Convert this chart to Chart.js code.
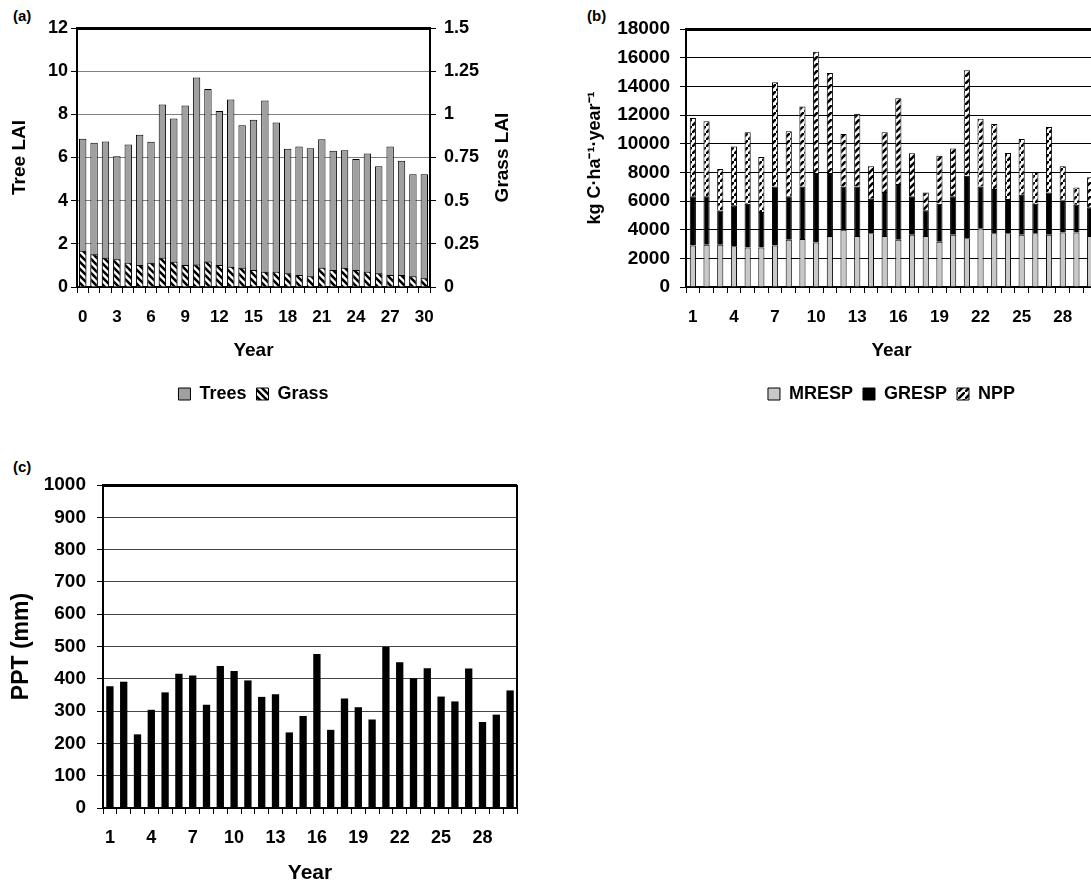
<!DOCTYPE html>
<html>
<head>
<meta charset="utf-8">
<script src="https://cdn.jsdelivr.net/npm/chart.js@4.4.1/dist/chart.umd.min.js"></script>
<style>
  body { margin: 0; background: #fff; width: 1091px; height: 884px; overflow: hidden; position: relative; }
  canvas { position: absolute; }
  .tag { position: absolute; font: bold 15px "Liberation Sans", Arial, sans-serif; line-height: 15px; color: #000; }
</style>
</head>
<body>
<div class="tag" style="left:13px; top:8px;">(a)</div>
<div class="tag" style="left:587px; top:8px;">(b)</div>
<div class="tag" style="left:13px; top:459px;">(c)</div>
<canvas id="chartA" width="525" height="420" style="left:0; top:0;"></canvas>
<canvas id="chartB" width="600" height="420" style="left:580px; top:0;"></canvas>
<canvas id="chartC" width="540" height="430" style="left:0; top:460px;"></canvas>

<script>
// --- data ---
const yearsA = ['0','1','2','3','4','5','6','7','8','9','10','11','12','13','14','15',
  '16','17','18','19','20','21','22','23','24','25','26','27','28','29','30'];
const treeLAI = [6.87, 6.68, 6.74, 6.06, 6.6, 7.05, 6.73, 8.46, 7.81, 8.41, 9.71, 9.17, 8.15, 8.69, 7.5, 7.75,
  8.64, 7.62, 6.4, 6.51, 6.43, 6.84, 6.31, 6.34, 5.93, 6.19, 5.6, 6.51, 5.85, 5.22, 5.22];
const grassLAI = [0.21, 0.19, 0.17, 0.16, 0.14, 0.128, 0.14, 0.17, 0.146, 0.128, 0.13, 0.148, 0.128, 0.118, 0.112, 0.098,
  0.089, 0.089, 0.079, 0.069, 0.062, 0.112, 0.098, 0.112, 0.098, 0.089, 0.079, 0.069, 0.069, 0.062, 0.05];

const years = ['1','2','3','4','5','6','7','8','9','10','11','12','13','14','15',
  '16','17','18','19','20','21','22','23','24','25','26','27','28','29','30'];
const mresp = [2900, 2950, 2950, 2850, 2750, 2750, 2900, 3300, 3350, 3100, 3550, 4000, 3550, 3750, 3550,
  3300, 3650, 3550, 3150, 3650, 3400, 4100, 3750, 3750, 3650, 3750, 3650, 3800, 3800, 3550];
const gresp = [3430, 3380, 2380, 2850, 3060, 2480, 4120, 3030, 3670, 4850, 4400, 3020, 3470, 2410, 3080,
  3890, 2680, 1800, 2660, 2680, 4370, 2920, 3090, 2390, 2790, 2060, 2950, 2250, 1940, 2010];
const npp = [5460, 5230, 2900, 4110, 4980, 3840, 7260, 4530, 5580, 8470, 6980, 3650, 5070, 2260, 4160,
  5970, 3000, 1250, 3350, 3340, 7350, 4720, 4530, 3210, 3890, 2210, 4560, 2370, 1210, 2090];

const ppt = [377, 391, 228, 304, 358, 416, 410, 320, 440, 424, 395, 344, 352, 234, 285,
  477, 242, 339, 312, 274, 499, 451, 402, 433, 345, 330, 432, 266, 289, 364];

// --- shared look ---
const FONT = '"Liberation Sans", Arial, sans-serif';
Chart.defaults.font.family = FONT;
Chart.defaults.font.weight = 'bold';
Chart.defaults.color = '#000';

// black/white diagonal hatch, dir '/' or '\'
function hatch(dir) {
  const n = 7;
  const c = document.createElement('canvas');
  c.width = c.height = n;
  const g = c.getContext('2d');
  g.fillStyle = '#fff';
  g.fillRect(0, 0, n, n);
  g.strokeStyle = '#000';
  g.lineWidth = 2.6;
  g.beginPath();
  if (dir === '/') {
    g.moveTo(-1, n + 1); g.lineTo(n + 1, -1);
    g.moveTo(-n - 1, 1); g.lineTo(1, -n - 1);
    g.moveTo(n - 1, 2 * n + 1); g.lineTo(2 * n + 1, n - 1);
  } else {
    g.moveTo(-1, -1); g.lineTo(n + 1, n + 1);
    g.moveTo(-n - 1, -1); g.lineTo(1, n + 1);
    g.moveTo(n - 1, -1); g.lineTo(2 * n + 1, n + 1);
  }
  g.stroke();
  return g.createPattern(c, 'repeat');
}

function everyThird(v, i) {
  return i % 3 === 0 ? this.getLabelForValue(v) : '';
}

// right-hand border of the plot area
const frame = {
  id: 'frame',
  afterDraw(chart, args, opts) {
    if (!opts.right) return;
    const { ctx, chartArea: a } = chart;
    ctx.save();
    ctx.strokeStyle = '#000';
    ctx.lineWidth = 2;
    ctx.beginPath();
    ctx.moveTo(a.right, a.top);
    ctx.lineTo(a.right, a.bottom);
    ctx.stroke();
    ctx.restore();
  }
};

// right axis title reading bottom-to-top like Excel
const sideTitle = {
  id: 'sideTitle',
  afterDraw(chart, args, opts) {
    if (!opts.text) return;
    const s = chart.scales[opts.axis];
    const ctx = chart.ctx;
    ctx.save();
    ctx.translate(s.right - opts.offset, (s.top + s.bottom) / 2);
    ctx.rotate(-Math.PI / 2);
    ctx.font = 'bold ' + opts.size + 'px ' + FONT;
    ctx.fillStyle = '#000';
    ctx.textAlign = 'center';
    ctx.textBaseline = 'middle';
    ctx.fillText(opts.text, 0, 0);
    ctx.restore();
  }
};

function topLine(max, grey) {
  return {
    color: c => c.tick.value === max ? '#000' : grey,
    lineWidth: c => c.tick.value === max ? 3 : 1,
    tickColor: '#000',
    tickWidth: 1,
    tickLength: 6
  };
}

// (a) Tree / Grass LAI
new Chart(document.getElementById('chartA'), {
  type: 'bar',
  data: {
    labels: yearsA,
    datasets: [
      { label: 'Trees', data: treeLAI, yAxisID: 'y', backgroundColor: '#a0a0a0', borderColor: '#000',
        borderWidth: 1, grouped: false, order: 2, barPercentage: 0.65, categoryPercentage: 1 },
      { label: 'Grass', data: grassLAI, yAxisID: 'y1', backgroundColor: hatch('\\'), borderColor: '#000',
        borderWidth: 1, grouped: false, order: 1, barPercentage: 0.65, categoryPercentage: 1 }
    ]
  },
  plugins: [sideTitle],
  options: {
    responsive: false,
    animation: false,
    layout: { padding: { top: 28, left: 0, right: 0, bottom: 7 } },
    plugins: {
      legend: {
        position: 'bottom', fullSize: false,
        labels: { sort: (a, b) => a.datasetIndex - b.datasetIndex, boxWidth: 12, boxHeight: 12,
          padding: 10, font: { size: 18 } }
      },
      tooltip: { enabled: false },
      sideTitle: { axis: 'y1', text: 'Grass LAI', size: 19, offset: 22 }
    },
    scales: {
      x: {
        grid: { offset: true, drawOnChartArea: false, tickLength: 6, color: '#000' },
        border: { color: '#000', width: 2 },
        ticks: { autoSkip: false, maxRotation: 0, padding: 14, font: { size: 17 }, callback: everyThird },
        title: { display: true, text: 'Year', font: { size: 19 }, padding: { top: 4, bottom: 13 } },
        afterFit(s) { s.height = 88; }
      },
      y: {
        min: 0, max: 12,
        ticks: { stepSize: 2, padding: 3, font: { size: 18 } },
        grid: topLine(12, '#808080'),
        border: { color: '#000', width: 2 },
        title: { display: true, text: 'Tree LAI', font: { size: 19 }, padding: { top: 8, bottom: 4 } },
        afterFit(s) { s.width = 77; }
      },
      y1: {
        position: 'right', min: 0, max: 1.5,
        ticks: { stepSize: 0.25, padding: 8, font: { size: 18 }, callback: v => String(v) },
        grid: { drawOnChartArea: false, tickLength: 6, color: '#000' },
        border: { color: '#000', width: 2 },
        afterFit(s) { s.width = 95; }
      }
    }
  }
});

// (b) carbon budget
new Chart(document.getElementById('chartB'), {
  type: 'bar',
  data: {
    labels: years,
    datasets: [
      { label: 'MRESP', data: mresp, backgroundColor: '#c8c8c8', borderColor: '#000', borderWidth: 1 },
      { label: 'GRESP', data: gresp, backgroundColor: '#000', borderColor: '#000', borderWidth: 1 },
      { label: 'NPP', data: npp, backgroundColor: hatch('/'), borderColor: '#000', borderWidth: 1 }
    ]
  },
  options: {
    responsive: false,
    animation: false,
    datasets: { bar: { barPercentage: 0.45, categoryPercentage: 1 } },
    layout: { padding: { top: 29, left: 0, right: 83, bottom: 7 } },
    plugins: {
      legend: {
        position: 'bottom', fullSize: false,
        labels: { boxWidth: 12, boxHeight: 12, padding: 10, font: { size: 18 } }
      },
      tooltip: { enabled: false }
    },
    scales: {
      x: {
        stacked: true,
        grid: { offset: true, drawOnChartArea: false, tickLength: 6, color: '#000' },
        border: { color: '#000', width: 2 },
        ticks: { autoSkip: false, maxRotation: 0, padding: 14, font: { size: 17 }, callback: everyThird },
        title: { display: true, text: 'Year', font: { size: 19 }, padding: { top: 4, bottom: 13 } },
        afterFit(s) { s.height = 88; }
      },
      y: {
        stacked: true, min: 0, max: 18000,
        ticks: { stepSize: 2000, padding: 10, font: { size: 19 }, callback: v => String(v) },
        grid: topLine(18000, '#000'),
        border: { color: '#000', width: 2 },
        title: { display: true, text: 'kg C\u00b7ha\u207b\u00b9\u00b7year\u207b\u00b9', font: { size: 18 },
          padding: { top: 4, bottom: 4 } },
        afterFit(s) { s.width = 106; }
      }
    }
  }
});

// (c) precipitation
new Chart(document.getElementById('chartC'), {
  type: 'bar',
  data: {
    labels: years,
    datasets: [
      { label: 'PPT', data: ppt, backgroundColor: '#000', borderColor: '#000', borderWidth: 0,
        barPercentage: 0.53, categoryPercentage: 1 }
    ]
  },
  plugins: [frame],
  options: {
    responsive: false,
    animation: false,
    layout: { padding: { top: 25, left: 0, right: 23, bottom: 0 } },
    plugins: {
      legend: { display: false },
      tooltip: { enabled: false },
      frame: { right: true }
    },
    scales: {
      x: {
        grid: { offset: true, drawOnChartArea: false, tickLength: 6, color: '#000' },
        border: { color: '#000', width: 2 },
        ticks: { autoSkip: false, maxRotation: 0, padding: 13, font: { size: 18 }, callback: everyThird },
        title: { display: true, text: 'Year', font: { size: 21 }, padding: { top: 4, bottom: 4 } },
        afterFit(s) { s.height = 82; }
      },
      y: {
        min: 0, max: 1000,
        ticks: { stepSize: 100, padding: 11, font: { size: 19 }, callback: v => String(v) },
        grid: topLine(1000, '#444'),
        border: { color: '#000', width: 2 },
        title: { display: true, text: 'PPT (mm)', font: { size: 23 }, padding: { top: 8, bottom: 4 } },
        afterFit(s) { s.width = 103; }
      }
    }
  }
});
</script>
</body>
</html>
